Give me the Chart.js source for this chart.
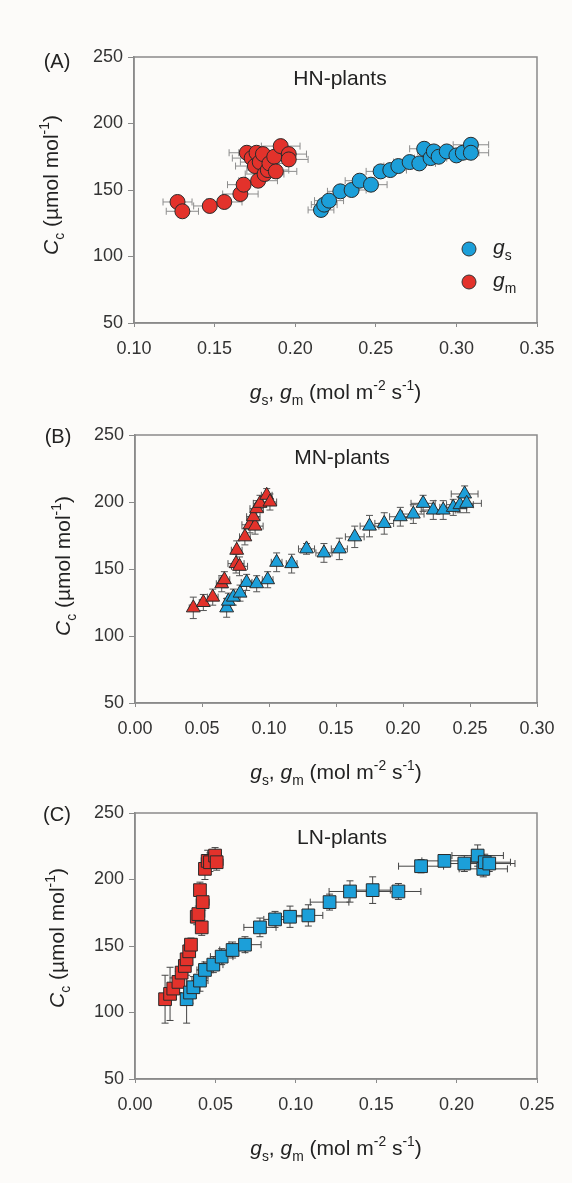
<!DOCTYPE html>
<html>
<head>
<meta charset="utf-8">
<script src="https://cdn.jsdelivr.net/npm/chart.js@4.4.1/dist/chart.umd.min.js"></script>
<style>
  body { margin: 0; background: #fcfbf9; width: 572px; height: 1183px; overflow: hidden; }
  canvas { position: absolute; left: 0; }
</style>
</head>
<body>
<canvas id="chartA" width="572" height="425" style="top:0px"></canvas>
<canvas id="chartB" width="572" height="410" style="top:400px"></canvas>
<canvas id="chartC" width="572" height="393" style="top:790px"></canvas>
<script>
// ---- data ----
const yTicks = [50, 100, 150, 200, 250];
const xTicksA = [0.10, 0.15, 0.20, 0.25, 0.30, 0.35];
const xTicksB = [0.00, 0.05, 0.10, 0.15, 0.20, 0.25, 0.30];
const xTicksC = [0.00, 0.05, 0.10, 0.15, 0.20, 0.25];

// (A) HN-plants
const hnGsX = [0.216, 0.218, 0.221, 0.228, 0.235, 0.240, 0.247, 0.253, 0.259, 0.264, 0.271, 0.277, 0.280, 0.284, 0.286, 0.289, 0.294, 0.300, 0.304, 0.309, 0.309];
const hnGsY = [135, 139, 142, 149, 150, 157, 154, 164, 165, 168, 171, 170, 181, 174, 179, 175, 179, 176, 178, 184, 178];
const hnGsXErr = [0.008, 0.008, 0.009, 0.008, 0.009, 0.009, 0.010, 0.009, 0.010, 0.009, 0.010, 0.010, 0.009, 0.010, 0.010, 0.010, 0.011, 0.010, 0.010, 0.011, 0.011];
const hnGsYErr = [3, 3, 3, 3, 3, 4, 3, 3, 4, 3, 3, 4, 3, 3, 4, 3, 3, 3, 4, 3, 3];
const hnGmX = [0.127, 0.130, 0.147, 0.156, 0.166, 0.168, 0.177, 0.170, 0.173, 0.175, 0.176, 0.178, 0.180, 0.181, 0.183, 0.184, 0.187, 0.188, 0.191, 0.196, 0.196];
const hnGmY = [141, 134, 138, 141, 147, 154, 157, 178, 174, 168, 178, 171, 177, 162, 165, 170, 175, 164, 183, 177, 173];
const hnGmXErr = [0.009, 0.010, 0.010, 0.011, 0.011, 0.010, 0.012, 0.011, 0.012, 0.012, 0.011, 0.012, 0.012, 0.012, 0.013, 0.012, 0.012, 0.013, 0.012, 0.011, 0.012];
const hnGmYErr = [4, 4, 3, 4, 5, 5, 4, 4, 5, 5, 4, 5, 4, 5, 5, 4, 4, 5, 4, 4, 5];

// (B) MN-plants
const mnGsX = [0.0684, 0.0697, 0.0734, 0.0784, 0.0833, 0.0908, 0.0990, 0.1057, 0.1169, 0.1280, 0.1410, 0.1525, 0.1640, 0.1750, 0.1860, 0.1980, 0.2077, 0.2150, 0.2226, 0.2300, 0.2375, 0.2425, 0.2460, 0.2475];
const mnGsY = [121, 126, 129, 132, 140, 139, 142, 155, 154, 165, 162, 165, 174, 182, 184, 189, 191, 199, 194, 194, 196, 198, 206, 199];
const mnGsXErr = [0.003, 0.003, 0.004, 0.004, 0.004, 0.004, 0.004, 0.004, 0.004, 0.006, 0.006, 0.006, 0.007, 0.007, 0.007, 0.008, 0.008, 0.009, 0.009, 0.009, 0.010, 0.010, 0.010, 0.011];
const mnGsYErr = [7, 6, 6, 6, 6, 6, 6, 7, 7, 4, 7, 8, 8, 8, 8, 7, 7, 6, 7, 7, 6, 6, 6, 7];
const mnGmX = [0.0435, 0.0510, 0.0580, 0.0647, 0.0667, 0.0754, 0.0780, 0.0759, 0.0820, 0.0858, 0.0896, 0.0883, 0.0908, 0.0933, 0.0983, 0.1007];
const mnGmY = [121, 125, 129, 139, 142, 154, 152, 164, 174, 183, 182, 189, 195, 199, 205, 200];
const mnGmXErr = [0.003, 0.003, 0.004, 0.004, 0.004, 0.006, 0.006, 0.004, 0.004, 0.006, 0.006, 0.005, 0.005, 0.005, 0.004, 0.005];
const mnGmYErr = [8, 6, 6, 6, 6, 7, 7, 7, 6, 6, 6, 6, 6, 6, 5, 6];

// (C) LN-plants
const lnGsX = [0.0321, 0.0342, 0.0363, 0.0404, 0.0435, 0.0487, 0.0539, 0.0607, 0.0684, 0.0777, 0.0871, 0.0964, 0.1078, 0.1210, 0.1337, 0.1478, 0.1638, 0.1779, 0.1924, 0.2048, 0.2131, 0.2166, 0.2175, 0.2203];
const lnGsY = [110, 115, 119, 124, 132, 136, 142, 147, 151, 164, 170, 172, 173, 183, 191, 192, 191, 210, 214, 212, 218, 208, 213, 212];
const lnGsXErr = [0.003, 0.003, 0.004, 0.005, 0.005, 0.006, 0.007, 0.008, 0.010, 0.010, 0.007, 0.010, 0.009, 0.012, 0.013, 0.011, 0.014, 0.014, 0.014, 0.015, 0.016, 0.015, 0.016, 0.016];
const lnGsYErr = [18, 8, 8, 8, 6, 6, 6, 6, 6, 7, 6, 8, 8, 6, 8, 10, 6, 5, 4, 6, 8, 6, 6, 6];
const lnGmX = [0.0187, 0.0218, 0.0238, 0.0270, 0.0290, 0.0310, 0.0321, 0.0337, 0.0348, 0.0384, 0.0394, 0.0415, 0.0404, 0.0421, 0.0435, 0.0452, 0.0466, 0.0498, 0.0508];
const lnGmY = [110, 114, 118, 123, 130, 135, 140, 146, 151, 172, 174, 164, 192, 183, 208, 214, 213, 218, 213];
const lnGmXErr = [0.002, 0.003, 0.003, 0.003, 0.003, 0.003, 0.003, 0.003, 0.003, 0.003, 0.004, 0.003, 0.003, 0.004, 0.003, 0.004, 0.004, 0.004, 0.004];
const lnGmYErr = [18, 20, 8, 8, 6, 6, 6, 5, 5, 6, 6, 6, 6, 6, 8, 8, 7, 6, 6];

// ---- styling ----
const BLUE = "#1c9fd9";
const RED = "#e3322b";
const FONT = "'Liberation Sans', Arial, sans-serif";

const xTitleParts = [["g", "i"], ["s", "sub"], [", ", ""], ["g", "i"], ["m", "sub"], [" (mol m", ""], ["-2", "sup"], [" s", ""], ["-1", "sup"], [")", ""]];
const yTitleParts = [["C", "i"], ["c", "sub"], [" (\u00b5mol mol", ""], ["-1", "sup"], [")", ""]];

function toPoints(xs, ys) {
  return xs.map((x, i) => ({ x: x, y: ys[i] }));
}

function richWidth(ctx, parts, size) {
  let w = 0;
  parts.forEach(([t, s]) => {
    const fs = s === "sub" || s === "sup" ? size * 0.66 : size;
    ctx.font = (s === "i" ? "italic " : "") + fs + "px " + FONT;
    w += ctx.measureText(t).width;
  });
  return w;
}

function drawRich(ctx, parts, cx, baseY, size) {
  let x = cx - richWidth(ctx, parts, size) / 2;
  ctx.textAlign = "left";
  ctx.textBaseline = "alphabetic";
  parts.forEach(([t, s]) => {
    const small = s === "sub" || s === "sup";
    const fs = small ? size * 0.66 : size;
    ctx.font = (s === "i" ? "italic " : "") + fs + "px " + FONT;
    let dy = 0;
    if (s === "sub") dy = size * 0.28;
    if (s === "sup") dy = -size * 0.42;
    ctx.fillText(t, x, baseY + dy);
    x += ctx.measureText(t).width;
  });
}

const decor = {
  id: "decor",
  beforeDatasetsDraw(chart, args, opts) {
    const { ctx } = chart;
    const xs = chart.scales.x, ys = chart.scales.y;
    ctx.save();
    ctx.strokeStyle = opts.errColor;
    ctx.lineWidth = 1;
    const cap = 3.5;
    chart.data.datasets.forEach(ds => {
      ds.data.forEach((p, i) => {
        const px = xs.getPixelForValue(p.x);
        const py = ys.getPixelForValue(p.y);
        const xl = xs.getPixelForValue(p.x - ds.xErr[i]);
        const xr = xs.getPixelForValue(p.x + ds.xErr[i]);
        const yt = ys.getPixelForValue(p.y + ds.yErr[i]);
        const yb = ys.getPixelForValue(p.y - ds.yErr[i]);
        ctx.beginPath();
        ctx.moveTo(xl, py); ctx.lineTo(xr, py);
        ctx.moveTo(xl, py - cap); ctx.lineTo(xl, py + cap);
        ctx.moveTo(xr, py - cap); ctx.lineTo(xr, py + cap);
        ctx.moveTo(px, yt); ctx.lineTo(px, yb);
        ctx.moveTo(px - cap, yt); ctx.lineTo(px + cap, yt);
        ctx.moveTo(px - cap, yb); ctx.lineTo(px + cap, yb);
        ctx.stroke();
      });
    });
    ctx.restore();
  },
  afterDraw(chart, args, opts) {
    const { ctx, chartArea: a } = chart;
    ctx.save();
    // plot frame
    ctx.strokeStyle = "#8a8a8a";
    ctx.lineWidth = 1.5;
    ctx.strokeRect(a.left, a.top, a.right - a.left, a.bottom - a.top);

    ctx.fillStyle = "#222";
    // panel letter
    ctx.font = "20px " + FONT;
    ctx.textAlign = "center";
    ctx.textBaseline = "middle";
    ctx.fillText(opts.letter, opts.letterPos[0], opts.letterPos[1]);
    // panel title
    ctx.font = "21px " + FONT;
    ctx.fillText(opts.title, opts.titlePos[0], opts.titlePos[1]);
    // x title
    drawRich(ctx, xTitleParts, (a.left + a.right) / 2, a.bottom + 76, 21);
    // y title (rotated)
    ctx.save();
    ctx.translate(opts.yTitleX, opts.yTitleY);
    ctx.rotate(-Math.PI / 2);
    drawRich(ctx, yTitleParts, 0, 0, 21);
    ctx.restore();

    // legend
    if (opts.legend) {
      const items = [[BLUE, [["g", "i"], ["s", "sub"]]], [RED, [["g", "i"], ["m", "sub"]]]];
      items.forEach(([c, parts], k) => {
        const lx = a.right - 68, ly = a.bottom - 74 + k * 33;
        ctx.beginPath();
        ctx.arc(lx, ly, 7, 0, Math.PI * 2);
        ctx.fillStyle = c;
        ctx.fill();
        ctx.strokeStyle = "#333";
        ctx.lineWidth = 1;
        ctx.stroke();
        ctx.fillStyle = "#222";
        const w = richWidth(ctx, parts, 21);
        drawRich(ctx, parts, lx + 24 + w / 2, ly + 5, 21);
      });
    }
    ctx.restore();
  }
};

function makePanel(id, cfg) {
  const canvas = document.getElementById(id);
  const H = canvas.height;
  const ticksOf = list => (scale) => { scale.ticks = list.map(v => ({ value: v })); };
  new Chart(canvas.getContext("2d"), {
    type: "scatter",
    data: {
      datasets: [
        {
          label: "gs",
          data: toPoints(cfg.gsX, cfg.gsY),
          xErr: cfg.gsXErr, yErr: cfg.gsYErr,
          backgroundColor: BLUE, borderColor: "#2a2a2a", borderWidth: 1,
          pointStyle: cfg.shape, pointRadius: cfg.radius, pointHoverRadius: cfg.radius
        },
        {
          label: "gm",
          data: toPoints(cfg.gmX, cfg.gmY),
          xErr: cfg.gmXErr, yErr: cfg.gmYErr,
          backgroundColor: RED, borderColor: "#2a2a2a", borderWidth: 1,
          pointStyle: cfg.shape, pointRadius: cfg.radius, pointHoverRadius: cfg.radius
        }
      ]
    },
    options: {
      responsive: false,
      animation: false,
      events: [],
      layout: { padding: { left: 0, right: 572 - cfg.area[2], top: cfg.area[1], bottom: 0 } },
      plugins: {
        legend: { display: false },
        tooltip: { enabled: false },
        decor: {
          errColor: cfg.errColor,
          letter: cfg.letter, letterPos: cfg.letterPos,
          title: cfg.title, titlePos: cfg.titlePos,
          yTitleX: cfg.yTitleX, yTitleY: cfg.yTitleY,
          legend: cfg.legend
        }
      },
      scales: {
        x: {
          type: "linear",
          min: cfg.xTicks[0], max: cfg.xTicks[cfg.xTicks.length - 1],
          afterBuildTicks: ticksOf(cfg.xTicks),
          afterFit: s => { s.height = H - cfg.area[3]; },
          border: { color: "#8a8a8a", width: 1.5 },
          grid: { drawOnChartArea: false, tickLength: 4, color: "#8a8a8a", lineWidth: 1 },
          ticks: { padding: 11, color: "#333", font: { family: FONT, size: 18 }, callback: v => v.toFixed(2), maxRotation: 0 }
        },
        y: {
          type: "linear",
          min: yTicks[0], max: yTicks[yTicks.length - 1],
          afterBuildTicks: ticksOf(yTicks),
          afterFit: s => { s.width = cfg.area[0]; },
          border: { color: "#8a8a8a", width: 1.5 },
          grid: { drawOnChartArea: false, tickLength: 6, color: "#8a8a8a", lineWidth: 1 },
          ticks: { padding: 5, color: "#333", font: { family: FONT, size: 18 } }
        }
      }
    },
    plugins: [decor]
  });
}

makePanel("chartA", {
  gsX: hnGsX, gsY: hnGsY, gsXErr: hnGsXErr, gsYErr: hnGsYErr,
  gmX: hnGmX, gmY: hnGmY, gmXErr: hnGmXErr, gmYErr: hnGmYErr,
  xTicks: xTicksA, shape: "circle", radius: 7.5, errColor: "#8c8c8c",
  area: [134, 57, 537, 323],
  letter: "(A)", letterPos: [57, 62], title: "HN-plants", titlePos: [340, 79],
  yTitleX: 58, yTitleY: 185, legend: true
});
makePanel("chartB", {
  gsX: mnGsX, gsY: mnGsY, gsXErr: mnGsXErr, gsYErr: mnGsYErr,
  gmX: mnGmX, gmY: mnGmY, gmXErr: mnGmXErr, gmYErr: mnGmYErr,
  xTicks: xTicksB, shape: "triangle", radius: 8, errColor: "#555",
  area: [135, 35, 537, 303],
  letter: "(B)", letterPos: [58, 37], title: "MN-plants", titlePos: [342, 58],
  yTitleX: 70, yTitleY: 166, legend: false
});
makePanel("chartC", {
  gsX: lnGsX, gsY: lnGsY, gsXErr: lnGsXErr, gsYErr: lnGsYErr,
  gmX: lnGmX, gmY: lnGmY, gmXErr: lnGmXErr, gmYErr: lnGmYErr,
  xTicks: xTicksC, shape: "rect", radius: 9, errColor: "#444",
  area: [135, 23, 537, 289],
  letter: "(C)", letterPos: [57, 25], title: "LN-plants", titlePos: [342, 48],
  yTitleX: 64, yTitleY: 148, legend: false
});
</script>
</body>
</html>
